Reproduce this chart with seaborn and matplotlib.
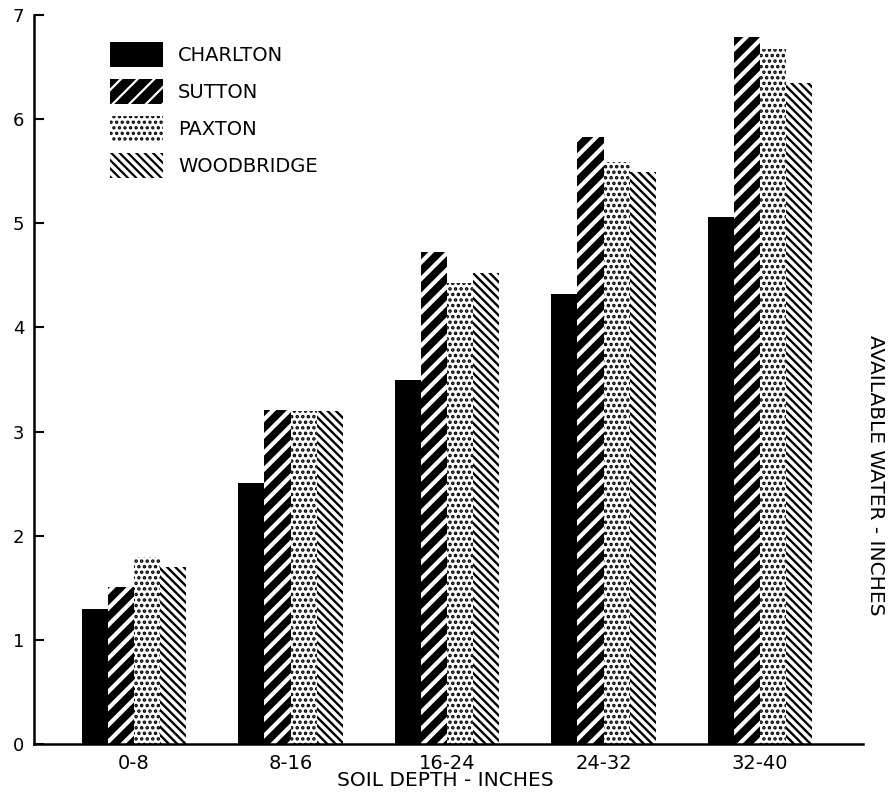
import matplotlib
matplotlib.use("Agg")
import matplotlib.pyplot as plt
from matplotlib.patches import Patch
import seaborn as sns
import pandas as pd

depths = ["0-8", "8-16", "16-24", "24-32", "32-40"]
soils = ["CHARLTON", "SUTTON", "PAXTON", "WOODBRIDGE"]
charlton = [1.30, 2.51, 3.50, 4.32, 5.06]
sutton = [1.51, 3.21, 4.72, 5.83, 6.79]
paxton = [1.80, 3.20, 4.43, 5.59, 6.67]
woodbridge = [1.70, 3.20, 4.52, 5.49, 6.35]
yticks = [0, 1, 2, 3, 4, 5, 6, 7]

rows = []
for soil, vals in zip(soils, [charlton, sutton, paxton, woodbridge]):
    for d, v in zip(depths, vals):
        rows.append({"depth": d, "soil": soil, "water": v})
df = pd.DataFrame(rows)

sns.set_theme(style="white")
plt.rcParams["font.family"] = ["DejaVu Sans"]
plt.rcParams["hatch.linewidth"] = 1.6
plt.rcParams["text.color"] = "black"
plt.rcParams["xtick.color"] = "black"
plt.rcParams["ytick.color"] = "black"
plt.rcParams["xtick.labelcolor"] = "black"
plt.rcParams["ytick.labelcolor"] = "black"

styles = {
    "CHARLTON": dict(facecolor="black", edgecolor="black", hatch=None, hlw=1.0),
    "SUTTON": dict(facecolor="black", edgecolor="white", hatch="//", hlw=3.0),
    "PAXTON": dict(facecolor="white", edgecolor="black", hatch="...", hlw=1.7),
    "WOODBRIDGE": dict(facecolor="white", edgecolor="black", hatch="\\\\\\\\", hlw=1.7),
}

L, R, B, T = 34, 863, 744, 15
fig = plt.figure(figsize=(8.91, 7.93), dpi=100)
ax = fig.add_axes([L / 891, 1 - B / 793, (R - L) / 891, (B - T) / 793])

sns.barplot(data=df, x="depth", y="water", hue="soil", order=depths,
            hue_order=soils, palette=["black", "black", "white", "white"],
            width=0.67, dodge=True, ax=ax, legend=False, saturation=1)


def style_patch(p, st):
    p.set_facecolor(st["facecolor"])
    p.set_edgecolor(st["edgecolor"])
    p.set_linewidth(0)
    if st["hatch"]:
        p.set_hatch(st["hatch"])
        if hasattr(p, "set_hatch_linewidth"):
            p.set_hatch_linewidth(st["hlw"])


for soil, cont in zip(soils, ax.containers):
    for p in cont.patches:
        style_patch(p, styles[soil])

ax.set_xlim((L - 134) / 156.5, (R - 134) / 156.5)
ax.set_ylim(0, 7)
ax.set_yticks(yticks)
ax.set_yticklabels([str(t) for t in yticks], fontsize=13)
ax.tick_params(axis="y", direction="in", length=7, width=1.5, pad=7, left=True,
               colors="black")
ax.tick_params(axis="x", length=0, pad=7, labelsize=14, colors="black")
ax.set_xlabel("")
ax.set_ylabel("")
for s in ["top", "right"]:
    ax.spines[s].set_visible(False)
for s in ["left", "bottom"]:
    ax.spines[s].set_linewidth(1.8)
    ax.spines[s].set_color("black")

handles = []
for soil in soils:
    st = styles[soil]
    h = Patch(facecolor=st["facecolor"], edgecolor=st["edgecolor"],
              hatch=st["hatch"], linewidth=0, label=soil)
    if st["hatch"] and hasattr(h, "set_hatch_linewidth"):
        h.set_hatch_linewidth(st["hlw"])
    handles.append(h)

fig.legend(handles=handles, loc="upper left",
           bbox_to_anchor=(110 / 891, 1 - 42 / 793),
           bbox_transform=fig.transFigure, frameon=False, fontsize=14,
           handlelength=2.7, handleheight=1.6, labelspacing=0.62,
           handletextpad=0.8, borderpad=0, borderaxespad=0,
           labelcolor="black")

fig.text(445 / 891, 1 - 781 / 793, "SOIL DEPTH - INCHES", ha="center",
         va="center", fontsize=14.5, color="black")
fig.text(875 / 891, 1 - 475 / 793, "AVAILABLE WATER - INCHES", ha="center",
         va="center", rotation=270, fontsize=14.5, color="black")

fig.savefig("out.png", dpi=100)
